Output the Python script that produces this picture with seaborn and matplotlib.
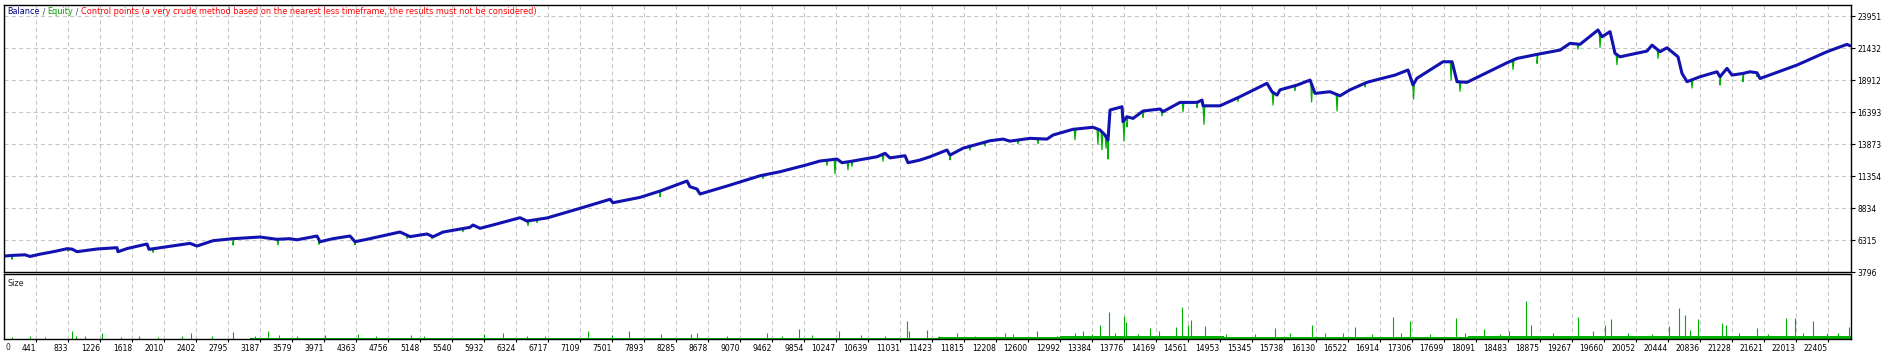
import numpy as np
import pandas as pd
import matplotlib
matplotlib.use("Agg")
import matplotlib.pyplot as plt
import seaborn as sns

# ---------------- data ----------------
trade_n = [50, 147, 307, 368, 490, 674, 821, 883, 944, 1042,
           1189, 1434, 1447, 1557, 1802, 1827, 1998, 2329, 2415, 2611,
           2857, 3188, 3396, 3555, 3641, 3886, 3923, 4083, 4291, 4352,
           4499, 4904, 5027, 5235, 5309, 5431, 5762, 5799, 5885, 6044,
           6375, 6461, 6706, 7111, 7479, 7515, 7846, 8092, 8423, 8459,
           8545, 8582, 8913, 9318, 9563, 9894, 10053, 10262, 10323, 10458,
           10752, 10850, 10911, 11095, 11132, 11279, 11402, 11610, 11647, 11806,
           12137, 12297, 12383, 12628, 12836, 12910, 13155, 13400, 13486, 13547,
           13584, 13609, 13756, 13768, 13817, 13891, 14013, 14222, 14258, 14467,
           14675, 14737, 14749, 14957, 15202, 15533, 15595, 15656, 15693, 15901,
           16061, 16122, 16306, 16428, 16551, 16759, 16919, 17103, 17262, 17323,
           17372, 17691, 17802, 17863, 17985, 18476, 18598, 18844, 19126, 19248,
           19371, 19591, 19641, 19739, 19800, 19861, 20192, 20254, 20352, 20437,
           20572, 20621, 20683, 20842, 21050, 21087, 21173, 21234, 21369, 21455,
           21541, 21578, 22031, 22399, 22644, 22681]
balance = [5050, 5100, 5150, 5020, 5200, 5420, 5630, 5600, 5394, 5480,
           5607, 5710, 5394, 5640, 6000, 5580, 5740, 6050, 5840, 6260,
           6420, 6550, 6370, 6420, 6330, 6630, 6180, 6420, 6630, 6180,
           6370, 6945, 6580, 6790, 6570, 6940, 7315, 7496, 7235, 7500,
           8070, 7810, 8050, 8810, 9520, 9250, 9670, 10170, 10960, 10510,
           10330, 9936, 10565, 11375, 11690, 12240, 12535, 12690, 12400, 12535,
           12870, 13140, 12780, 12950, 12400, 12610, 12870, 13400, 13000, 13540,
           14130, 14260, 14100, 14320, 14260, 14580, 15030, 15190, 14980, 14580,
           14190, 16550, 16806, 15630, 16020, 15890, 16470, 16630, 16420, 17150,
           17150, 17330, 16880, 16880, 17600, 18650, 17985, 17730, 18140, 18510,
           18907, 17860, 17990, 17670, 18140, 18730, 19000, 19300, 19700, 18520,
           19050, 20350, 20350, 18780, 18730, 20270, 20610, 20930, 21270, 21800,
           21720, 22850, 22320, 22720, 21010, 20740, 21190, 21660, 21140, 21450,
           20740, 19430, 18780, 19170, 19560, 19170, 19830, 19300, 19430, 19560,
           19480, 19030, 20090, 21140, 21720, 21610]

# equity drawdown spikes below balance: trade number and depth
dip_n = [147, 834, 1876, 2857, 3408, 3911, 4352, 4990, 5296, 5676,
         6473, 6584, 8092, 8545, 9354, 10139, 10237, 10396, 10445, 10826,
         11647, 11892, 12076, 12481, 12726, 13180, 13460, 13510, 13560, 13584,
         13780, 13817, 14013, 14246, 14504, 14675, 14760, 15178, 15607, 15877,
         16080, 16392, 16735, 17330, 17790, 17900, 18550, 18844, 19346, 19616,
         19824, 20327, 20744, 21087, 21369, 21541]
dip_depth = [300, 200, 290, 500, 450, 350, 250, 250, 200, 250,
             370, 250, 450, 150, 260, 400, 1130, 630, 400, 550,
             370, 300, 300, 300, 400, 840, 1200, 1400, 900, 1500,
             1620, 800, 500, 400, 740, 400, 1460, 300, 990, 400,
             1400, 1300, 300, 1190, 1440, 740, 730, 710, 390, 1100,
             790, 650, 650, 650, 650, 300]

# lot size bars (relative height) at trade numbers
size_n = [147, 368, 552, 883, 932, 1042, 1251, 1483, 1704, 1937,
          2231, 2342, 2599, 2857, 3126, 3286, 3421, 3641, 3985, 4389,
          4610, 5039, 5198, 5934, 6167, 6461, 6682, 7209, 7503, 7712,
          8104, 8472, 8545, 8913, 9403, 9587, 9796, 9955, 10286, 10556,
          10850, 11120, 11144, 11365, 11512,
          11733, 11954, 12321, 12419, 12714, 12959, 13180, 13278, 13388, 13486,
          13596, 13670, 13780, 13805, 13952, 14099, 14209, 14418, 14491, 14565,
          14602, 14773, 15031, 15386, 15632, 15815, 16085, 16245, 16465, 16612,
          16821, 17078, 17176, 17287, 17532, 17851, 17961, 18194, 18390, 18500,
          18709, 18770, 19040, 19346, 19530, 19677, 19751, 19959, 20254, 20462,
          20585, 20658, 20719, 20817, 21112, 21161, 21320, 21541, 21676, 21896,
          22007, 22105, 22227, 22399, 22534, 22669]
size_val = [0.03, 0.04, 0.03, 0.12, 0.05, 0.04, 0.09, 0.03, 0.04, 0.03,
            0.04, 0.09, 0.04, 0.11, 0.05, 0.12, 0.06, 0.05, 0.06, 0.08,
            0.05, 0.06, 0.04, 0.08, 0.09, 0.04, 0.05, 0.12, 0.06, 0.12,
            0.08, 0.08, 0.09, 0.04, 0.09, 0.05, 0.16, 0.06, 0.12, 0.06,
            0.05, 0.28, 0.12, 0.14, 0.05,
            0.10, 0.05, 0.10, 0.07, 0.13, 0.05, 0.10, 0.12, 0.07, 0.22,
            0.42, 0.09, 0.36, 0.26, 0.07, 0.17, 0.13, 0.18, 0.49, 0.22,
            0.29, 0.20, 0.07, 0.08, 0.17, 0.09, 0.22, 0.09, 0.10, 0.18,
            0.08, 0.34, 0.09, 0.28, 0.07, 0.32, 0.10, 0.16, 0.08, 0.12,
            0.58, 0.22, 0.09, 0.34, 0.12, 0.22, 0.31, 0.10, 0.08, 0.20,
            0.48, 0.37, 0.14, 0.31, 0.24, 0.21, 0.10, 0.17, 0.08, 0.32,
            0.32, 0.10, 0.28, 0.10, 0.09, 0.19]
# background level of the small lot bars per stretch of trades
base_n = [50, 3065, 4900, 9000, 11500, 13000, 15000, 18000, 22693]
base_lvl = [0.0, 0.012, 0.02, 0.022, 0.03, 0.04, 0.035, 0.04, 0.04]

x_ticks = [441, 833, 1226, 1618, 2010, 2402, 2795, 3187, 3579, 3971, 4363,
           4756, 5148, 5540, 5932, 6324, 6717, 7109, 7501, 7893, 8285, 8678,
           9070, 9462, 9854, 10247, 10639, 11031, 11423, 11815, 12208, 12600,
           12992, 13384, 13776, 14169, 14561, 14953, 15345, 15738, 16130,
           16522, 16914, 17306, 17699, 18091, 18483, 18875, 19267, 19660,
           20052, 20444, 20836, 21228, 21621, 22013, 22405]
y_ticks = [3796, 6315, 8834, 11354, 13873, 16393, 18912, 21432, 23951]

# ---------------- styling ----------------
sns.set_style("white")
plt.rcParams['font.family'] = ['DejaVu Sans']
FS = 5.5      # tick numbers
FT = 5.9      # legend / panel captions
BLUE = '#1212b0'
GREEN = '#00b000'
GRID = '#c6c6c6'
DASH = (0, (4, 3))

W, H = 1896, 356
fig = plt.figure(figsize=(W / 100, H / 100), dpi=100)


def rect(l, t, r, b):
    return [l / W, 1 - b / H, (r - l) / W, (b - t) / H]


ax = fig.add_axes(rect(4, 5, 1851, 272))
axs = fig.add_axes(rect(4, 274, 1851, 339))

bal_n = np.array(trade_n, float)
bal_v = np.array(balance, float)

# equity line: balance with the drawdown spikes
eq_x = list(bal_n)
eq_y = list(bal_v)
for n, d in zip(dip_n, dip_depth):
    eq_x += [n - 10, n, n + 10]
    eq_y += [np.interp(n - 10, bal_n, bal_v),
             np.interp(n, bal_n, bal_v) - d,
             np.interp(n + 10, bal_n, bal_v)]
order = np.argsort(np.array(eq_x), kind='stable')
eq_df = pd.DataFrame({'trade': np.array(eq_x)[order], 'equity': np.array(eq_y)[order]})
bal_df = pd.DataFrame({'trade': bal_n, 'balance': bal_v})

ax.grid(True, color=GRID, linestyle=DASH, linewidth=0.75)
ax.set_axisbelow(True)
sns.lineplot(data=eq_df, x='trade', y='equity', ax=ax, color=GREEN,
             linewidth=0.9, sort=False, estimator=None)
sns.lineplot(data=bal_df, x='trade', y='balance', ax=ax, color=BLUE,
             linewidth=2.2, sort=False, estimator=None)

XMIN, XMAX = 49, 22693
ax.set_xlim(XMIN, XMAX)
ax.set_ylim(3796, 24818)
ax.set_xticks(x_ticks)
ax.set_yticks(y_ticks)
ax.set_yticklabels([str(v) for v in y_ticks])
ax.yaxis.tick_right()
ax.tick_params(axis='y', right=True, left=False, length=3, width=0.8,
               pad=1.6, labelsize=FS, colors='black', direction='out')
ax.tick_params(axis='x', bottom=False, labelbottom=False)
ax.set_xlabel('')
ax.set_ylabel('')

# size panel
axs.grid(True, axis='x', color=GRID, linestyle=DASH, linewidth=0.75)
axs.set_axisbelow(True)
axs.fill_between(base_n, 0, base_lvl, step='post', color=GREEN, linewidth=0)
axs.vlines(size_n, 0, size_val, color=GREEN, linewidth=0.8)
axs.set_xlim(XMIN, XMAX)
axs.set_ylim(0, 1)
axs.set_yticks([])
axs.set_xticks(x_ticks)
axs.set_xticklabels([str(v) for v in x_ticks])
for lbl in axs.get_xticklabels():
    lbl.set_ha('right')
axs.tick_params(axis='x', bottom=True, length=2, width=0.8, pad=1.8,
                labelsize=FS, colors='black', direction='out')

for a in (ax, axs):
    for s in a.spines.values():
        s.set_visible(True)
        s.set_color('black')
        s.set_linewidth(1.0)

fig.text(6 / W, 1 - 347 / H, "0", fontsize=FS, ha='left', va='center')
fig.text(8 / W, 1 - 283 / H, "Size", fontsize=FT, ha='left', va='center')

t1 = fig.text(7 / W, 1 - 12 / H, "Balance", fontsize=FT, color='#00008b',
              ha='left', va='center')
t2 = ax.annotate(" / ", xy=(1, 0), xycoords=t1, va='bottom', ha='left',
                 fontsize=FT, color='#2f4f6f')
t3 = ax.annotate("Equity", xy=(1, 0), xycoords=t2, va='bottom', ha='left',
                 fontsize=FT, color='#00a000')
t4 = ax.annotate(" / ", xy=(1, 0), xycoords=t3, va='bottom', ha='left',
                 fontsize=FT, color='#2f4f6f')
t5 = ax.annotate("Control points (a very crude method based on the nearest less "
                 "timeframe, the results must not be considered)",
                 xy=(1, 0), xycoords=t4, va='bottom', ha='left',
                 fontsize=FT, color='#ff0000')

fig.savefig("out.png", dpi=100, facecolor='white')
